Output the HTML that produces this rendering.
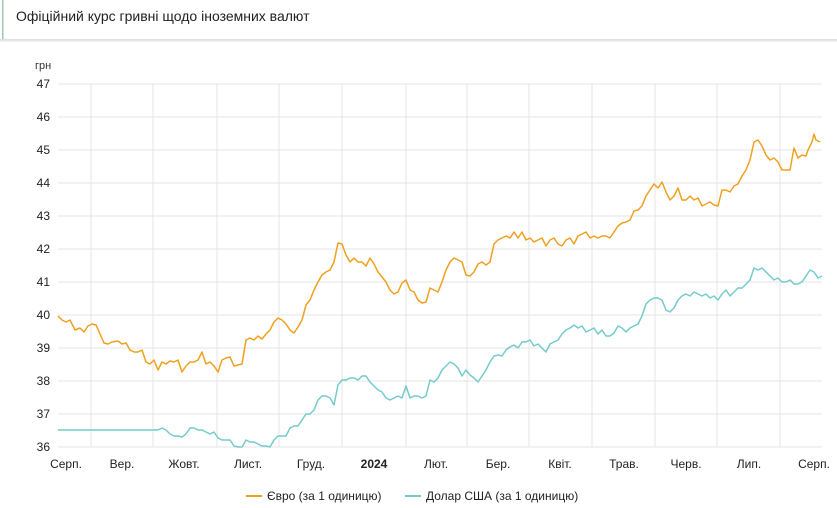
<!DOCTYPE html>
<html><head><meta charset="utf-8"><style>
html,body{margin:0;padding:0;background:#fff;width:837px;height:508px;overflow:hidden;font-family:"Liberation Sans","DejaVu Sans",sans-serif}
</style></head><body>
<svg width="837" height="508" xmlns="http://www.w3.org/2000/svg" font-family="Liberation Sans, DejaVu Sans, sans-serif">
<rect x="0" y="0" width="837" height="40" fill="#fff"/>
<rect x="2" y="0" width="1.5" height="40" fill="#9cc7b0"/>
<rect x="0" y="39" width="837" height="1.5" fill="#dedede"/>
<rect x="0" y="40.5" width="837" height="1.5" fill="#f0f0f0"/>
<text x="16" y="21" font-size="14" fill="#222">Офіційний курс гривні щодо іноземних валют</text>
<text x="35" y="69" font-size="11" fill="#333">грн</text>
<g stroke="#e4e4e4" stroke-width="1">
<line x1="58" x2="822" y1="84" y2="84"/><line x1="58" x2="822" y1="117" y2="117"/><line x1="58" x2="822" y1="150" y2="150"/><line x1="58" x2="822" y1="183" y2="183"/><line x1="58" x2="822" y1="216" y2="216"/><line x1="58" x2="822" y1="249" y2="249"/><line x1="58" x2="822" y1="282" y2="282"/><line x1="58" x2="822" y1="315" y2="315"/><line x1="58" x2="822" y1="348" y2="348"/><line x1="58" x2="822" y1="381" y2="381"/><line x1="58" x2="822" y1="414" y2="414"/><line x1="58" x2="822" y1="447" y2="447"/>
<line x1="91" x2="91" y1="84" y2="447"/><line x1="153" x2="153" y1="84" y2="447"/><line x1="217" x2="217" y1="84" y2="447"/><line x1="279" x2="279" y1="84" y2="447"/><line x1="342" x2="342" y1="84" y2="447"/><line x1="406" x2="406" y1="84" y2="447"/><line x1="467" x2="467" y1="84" y2="447"/><line x1="529" x2="529" y1="84" y2="447"/><line x1="592" x2="592" y1="84" y2="447"/><line x1="655" x2="655" y1="84" y2="447"/><line x1="717" x2="717" y1="84" y2="447"/><line x1="780" x2="780" y1="84" y2="447"/>
</g>
<g font-size="12" fill="#222" text-anchor="end">
<text x="50" y="88">47</text><text x="50" y="121">46</text><text x="50" y="154">45</text><text x="50" y="187">44</text><text x="50" y="220">43</text><text x="50" y="253">42</text><text x="50" y="286">41</text><text x="50" y="319">40</text><text x="50" y="352">39</text><text x="50" y="385">38</text><text x="50" y="418">37</text><text x="50" y="451">36</text>
</g>
<g font-size="12" fill="#222" text-anchor="middle">
<text x="66" y="468">Серп.</text><text x="122" y="468">Вер.</text><text x="184" y="468">Жовт.</text><text x="248" y="468">Лист.</text><text x="311" y="468">Груд.</text><text x="374" y="468" font-weight="bold">2024</text><text x="436" y="468">Лют.</text><text x="498" y="468">Бер.</text><text x="560" y="468">Квіт.</text><text x="624" y="468">Трав.</text><text x="686" y="468">Черв.</text><text x="749" y="468">Лип.</text><text x="814" y="468">Серп.</text>
</g>
<polyline fill="none" stroke="#f0a01e" stroke-width="1.5" stroke-linejoin="round" points="58,316 62,320 66,322 70,320 75,330 80,328 84,332 88,326 92,324 96,325 100,334 104,343 108,344 112,342 118,341 122,344 126,343 130,350 134,352 138,352 142,350 146,362 150,364 154,360 158,370 162,362 166,364 170,361 174,362 178,360 182,372 186,366 190,362 194,362 198,360 202,352 206,364 210,362 214,366 218,372 222,360 226,358 230,357 234,366 238,365 242,364 246,340 250,338 254,340 258,336 262,339 266,334 270,330 274,322 278,318 282,320 286,324 290,330 294,333 298,327 302,320 306,305 310,300 314,290 318,282 322,275 326,272 330,270 334,262 338,243 342,244 346,255 350,262 354,258 358,262 362,262 366,266 370,258 374,264 378,272 382,277 386,282 390,290 394,294 398,292 402,283 406,280 410,290 414,292 418,300 422,303 426,302 430,288 434,290 438,292 442,282 446,270 450,262 454,258 458,260 462,262 466,275 470,276 474,272 478,264 482,262 486,265 490,262 494,244 498,240 502,238 506,236 510,238 514,232 518,238 522,232 526,240 530,238 534,242 538,240 542,238 546,246 550,240 554,238 558,244 562,246 566,240 570,238 574,244 578,236 582,234 586,232 590,238 594,236 598,238 602,236 606,236 610,238 614,232 618,226 622,223 626,222 630,220 634,211 638,210 642,206 646,196 650,190 654,184 658,188 662,182 666,192 670,200 674,196 678,188 682,200 686,200 690,196 694,200 698,198 702,206 706,204 710,202 714,205 718,206 722,190 726,190 730,192 734,186 738,184 742,176 746,170 750,160 754,142 758,140 762,146 766,155 770,160 774,158 778,162 782,170 786,170 790,170 794,148 798,158 802,155 806,156 808,150 812,142 814,134 816,140 820,142"/>
<polyline fill="none" stroke="#74cbcb" stroke-width="1.5" stroke-linejoin="round" points="58,430 158,430 162,428 166,430 170,434 174,436 178,436 182,437 186,434 190,428 194,428 198,430 202,430 206,432 210,434 214,432 218,438 222,440 226,440 230,440 234,446 238,447 242,447 246,440 250,442 254,442 258,444 262,446 266,446 270,447 274,440 278,436 282,436 286,436 290,428 294,426 298,426 302,420 306,414 310,414 314,410 318,400 322,396 326,396 330,398 334,405 338,385 342,380 346,380 350,378 354,378 358,380 362,376 366,376 370,382 374,386 378,390 382,392 386,398 390,400 394,398 398,396 402,398 406,386 410,398 414,396 418,396 422,398 426,396 430,380 434,382 438,378 442,370 446,366 450,362 454,364 458,368 462,376 466,370 470,375 474,378 478,382 482,376 486,370 490,362 494,356 498,355 502,356 506,350 510,347 514,345 518,348 522,342 526,342 530,340 534,346 538,344 542,348 546,352 550,344 554,342 558,340 562,334 566,330 570,328 574,325 578,328 582,326 586,332 590,330 594,328 598,334 602,330 606,336 610,336 614,333 618,326 622,328 626,332 630,328 634,326 638,324 642,316 646,304 650,300 654,298 658,298 662,300 666,310 670,312 674,308 678,300 682,296 686,294 690,296 694,292 698,294 702,296 706,294 710,298 714,296 718,300 722,294 726,290 730,296 734,292 738,288 742,288 746,284 750,280 754,268 758,270 762,268 766,272 770,276 774,280 778,278 782,282 786,282 790,280 794,284 798,284 802,282 806,276 810,270 814,272 818,278 822,276"/>
<line x1="246" x2="262" y1="496" y2="496" stroke="#f0a01e" stroke-width="2"/>
<text x="267" y="500" font-size="12" fill="#222">Євро (за 1 одиницю)</text>
<line x1="405" x2="421" y1="496" y2="496" stroke="#74cbcb" stroke-width="2"/>
<text x="426" y="500" font-size="12" fill="#222">Долар США (за 1 одиницю)</text>
</svg>
</body></html>
